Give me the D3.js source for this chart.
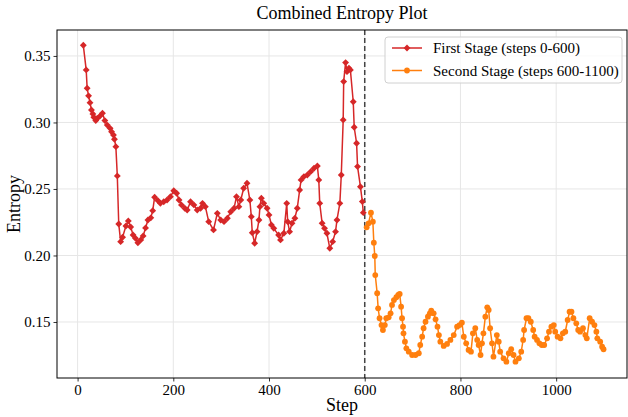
<!DOCTYPE html>
<html>
<head>
<meta charset="utf-8">
<script src="https://cdn.jsdelivr.net/npm/d3@7"></script>
<style>
  body { margin: 0; background: #fff; }
  svg text { font-family: "Liberation Serif", "Times New Roman", serif; fill: #000; }
</style>
</head>
<body>
<svg width="628" height="417"></svg>
<script>
// first stage
const stage1Steps = [12, 18, 20, 23, 26, 29, 32, 34, 38, 41, 47, 52, 57, 62, 68, 71, 75, 77, 80, 83,
  86, 90, 94, 101, 106, 111, 116, 121, 126, 132, 137, 142, 147, 153, 157, 161, 168, 173, 180, 187,
  194, 201, 207, 212, 217, 224, 229, 236, 243, 250, 257, 261, 267, 274, 284, 292, 299, 306, 313, 320,
  327, 332, 337, 341, 347, 354, 360, 363, 365, 370, 375, 379, 381, 384, 389, 396, 400, 405, 410, 420,
  424, 431, 437, 439, 443, 448, 454, 459, 464, 467, 473, 480, 487, 494, 501, 504, 506, 511, 516, 521,
  527, 533, 539, 542, 548, 551, 555, 556, 560, 563, 567, 570, 576, 578, 583, 585, 591, 595, 597];
const stage1Values = [0.358, 0.3395, 0.3257, 0.320, 0.3149, 0.3094, 0.3064, 0.3039, 0.3014, 0.303,
  0.3049, 0.307, 0.3014, 0.298, 0.2956, 0.293, 0.2906, 0.2874, 0.2818, 0.2598,
  0.2237, 0.2104, 0.2137, 0.2222, 0.226, 0.2214, 0.2154, 0.2129, 0.2096, 0.2117,
  0.2147, 0.2207, 0.2267, 0.2283, 0.2337, 0.2438, 0.2412, 0.2392, 0.2404, 0.2417,
  0.2442, 0.2487, 0.2468, 0.2417, 0.238, 0.2355, 0.2342, 0.2404, 0.238, 0.2342,
  0.2355, 0.2392, 0.2367, 0.2254, 0.2192, 0.2317, 0.2267, 0.2254, 0.228, 0.2329,
  0.2355, 0.2442, 0.2367, 0.2417, 0.2505, 0.2543, 0.2417, 0.2292, 0.2171, 0.2092,
  0.2179, 0.2267, 0.2367, 0.243, 0.2392, 0.2355, 0.2305, 0.223, 0.2204, 0.2154,
  0.2117, 0.2167, 0.2392, 0.2254, 0.2179, 0.2242, 0.228, 0.2355, 0.2492, 0.2568,
  0.2593, 0.2605, 0.263, 0.2656, 0.2673, 0.2568, 0.2392, 0.2242, 0.2204, 0.2167,
  0.2054, 0.2104, 0.2179, 0.2267, 0.2392, 0.2605, 0.3019, 0.3307, 0.345, 0.3382,
  0.3408, 0.3395, 0.3156, 0.2964, 0.2844, 0.2668, 0.2517, 0.2405, 0.2322];

// second stage
const stage2Steps = [604, 608, 613, 617, 619, 621, 622, 626, 628, 631, 635, 638, 642, 645, 650, 654,
  657, 661, 666, 670, 673, 676, 678, 680, 681, 684, 687, 692, 699, 706, 713, 716, 720, 723, 727, 732,
  736, 739, 744, 748, 752, 755, 758, 765, 772, 779, 786, 793, 798, 803, 807, 812, 817, 822, 826, 831,
  835, 838, 842, 845, 848, 852, 856, 859, 862, 866, 869, 876, 880, 883, 890, 896, 901, 906, 911, 915,
  922, 927, 931, 933, 938, 942, 947, 952, 955, 960, 965, 970, 975, 981, 985, 990, 995, 998, 1003,
  1009, 1014, 1019, 1024, 1028, 1032, 1036, 1042, 1046, 1050, 1056, 1061, 1064, 1070, 1075, 1080,
  1084, 1086, 1092, 1096, 1099];
const stage2Values = [0.2212, 0.2242, 0.2322, 0.2254, 0.2096, 0.1996, 0.1853, 0.1716, 0.1603, 0.1528,
  0.1477, 0.144, 0.1477, 0.1528, 0.1535, 0.1565, 0.1628, 0.1665, 0.1686, 0.1703,
  0.1711, 0.1615, 0.1528, 0.1465, 0.1415, 0.1352, 0.1302, 0.1277, 0.1252, 0.1252,
  0.1265, 0.1327, 0.139, 0.1453, 0.1502, 0.154, 0.1565, 0.1585, 0.1565, 0.152,
  0.1465, 0.1402, 0.1352, 0.132, 0.1335, 0.1365, 0.1402, 0.1465, 0.1477, 0.1495,
  0.1389, 0.134, 0.129, 0.1277, 0.1415, 0.1453, 0.1365, 0.1327, 0.1252, 0.134,
  0.1415, 0.154, 0.161, 0.159, 0.1453, 0.134, 0.1239, 0.1402, 0.1352, 0.1277,
  0.1227, 0.1202, 0.1265, 0.1295, 0.1252, 0.1202, 0.1227, 0.1277, 0.1365, 0.144,
  0.1528, 0.1528, 0.1502, 0.144, 0.139, 0.1365, 0.134, 0.1327, 0.1327, 0.1377,
  0.1427, 0.1465, 0.1477, 0.1427, 0.139, 0.1377, 0.1415, 0.1427, 0.1515, 0.1577,
  0.1577, 0.1528, 0.149, 0.144, 0.1427, 0.1453, 0.1402, 0.1377, 0.1528, 0.1502,
  0.1477, 0.1427, 0.1377, 0.1352, 0.1314, 0.1295];

const xTicks = [0, 200, 400, 600, 800, 1000];
const yTicks = [0.15, 0.20, 0.25, 0.30, 0.35];
const stageBoundary = 600;
const legendLabels = ["First Stage (steps 0-600)", "Second Stage (steps 600-1100)"];
const colors = ["#d62728", "#ff7f0e"];

const stage1 = stage1Steps.map((s, i) => ({step: s, value: stage1Values[i]}));
const stage2 = stage2Steps.map((s, i) => ({step: s, value: stage2Values[i]}));

const margin = {top: 30, right: 1, bottom: 39, left: 57};
const width = 628 - margin.left - margin.right;
const height = 417 - margin.top - margin.bottom;
const serif = '"Liberation Serif", "Times New Roman", serif';

const svg = d3.select('svg');
const chart = svg.append('g')
    .attr('transform', `translate(${margin.left}, ${margin.top})`);

const xScale = d3.scaleLinear().domain([-43, 1148]).range([0, width]);
const yScale = d3.scaleLinear().domain([0.1079, 0.3695]).range([height, 0]);

// grid
chart.append('g')
    .selectAll('line')
    .data(xTicks)
    .enter()
    .append('line')
    .attr('x1', d => xScale(d)).attr('x2', d => xScale(d))
    .attr('y1', 0).attr('y2', height)
    .attr('stroke', '#e6e6e6').attr('stroke-width', 1);

chart.append('g')
    .selectAll('line')
    .data(yTicks)
    .enter()
    .append('line')
    .attr('y1', d => yScale(d)).attr('y2', d => yScale(d))
    .attr('x1', 0).attr('x2', width)
    .attr('stroke', '#e6e6e6').attr('stroke-width', 1);

// stage boundary
chart.append('line')
    .attr('x1', xScale(stageBoundary)).attr('x2', xScale(stageBoundary))
    .attr('y1', 0).attr('y2', height)
    .attr('stroke', '#444').attr('stroke-width', 1.5)
    .attr('stroke-dasharray', '5,3');

const line = d3.line().x(d => xScale(d.step)).y(d => yScale(d.value));

chart.append('path')
    .datum(stage1)
    .attr('d', line)
    .attr('fill', 'none')
    .attr('stroke', colors[0])
    .attr('stroke-width', 1.5);

const diamond = d3.symbol().type(d3.symbolDiamond2).size(30);

chart.selectAll()
    .data(stage1)
    .enter()
    .append('path')
    .attr('d', diamond)
    .attr('transform', d => `translate(${xScale(d.step)}, ${yScale(d.value)})`)
    .attr('fill', colors[0]);

chart.append('path')
    .datum(stage2)
    .attr('d', line)
    .attr('fill', 'none')
    .attr('stroke', colors[1])
    .attr('stroke-width', 1.5);

chart.selectAll()
    .data(stage2)
    .enter()
    .append('circle')
    .attr('cx', d => xScale(d.step))
    .attr('cy', d => yScale(d.value))
    .attr('r', 2.9)
    .attr('fill', colors[1]);

// axes
const xAxis = chart.append('g')
    .attr('transform', `translate(0, ${height})`)
    .call(d3.axisBottom(xScale).tickValues(xTicks).tickFormat(d3.format('d')).tickSize(3.5).tickPadding(3));
const yAxis = chart.append('g')
    .call(d3.axisLeft(yScale).tickValues(yTicks).tickFormat(d3.format('.2f')).tickSize(3.5).tickPadding(3));

[xAxis, yAxis].forEach(a => {
  a.attr('font-family', serif);
  a.select('.domain').remove();
  a.selectAll('.tick line').attr('stroke', '#000').attr('stroke-width', 0.8);
  a.selectAll('.tick text').attr('font-size', 15).attr('font-family', serif);
});

// spines
chart.append('rect')
    .attr('width', width).attr('height', height)
    .attr('fill', 'none').attr('stroke', '#000').attr('stroke-width', 1);

svg.append('text')
    .attr('x', margin.left + width / 2)
    .attr('y', 19)
    .attr('text-anchor', 'middle')
    .style('font-size', '18px')
    .text('Combined Entropy Plot');

svg.append('text')
    .attr('x', margin.left + width / 2)
    .attr('y', 411)
    .attr('text-anchor', 'middle')
    .style('font-size', '18px')
    .text('Step');

svg.append('text')
    .attr('transform', `translate(20, ${margin.top + height / 2}) rotate(-90)`)
    .attr('text-anchor', 'middle')
    .style('font-size', '18px')
    .text('Entropy');

// legend
const legend = svg.append('g').attr('transform', 'translate(385, 37)');
legend.append('rect')
    .attr('width', 237).attr('height', 46)
    .attr('rx', 3)
    .attr('fill', '#fff').attr('fill-opacity', 0.8)
    .attr('stroke', '#d0d0d0');

legendLabels.forEach((label, i) => {
  const y = 11 + i * 22.5;
  legend.append('line')
      .attr('x1', 7).attr('x2', 37).attr('y1', y).attr('y2', y)
      .attr('stroke', colors[i]).attr('stroke-width', 1.5);
  if (i === 0) {
    legend.append('path')
        .attr('d', diamond)
        .attr('transform', `translate(22, ${y})`)
        .attr('fill', colors[i]);
  } else {
    legend.append('circle')
        .attr('cx', 22).attr('cy', y).attr('r', 2.9)
        .attr('fill', colors[i]);
  }
  legend.append('text')
      .attr('x', 48).attr('y', y + 5)
      .style('font-size', '15px')
      .text(label);
});
</script>
</body>
</html>
